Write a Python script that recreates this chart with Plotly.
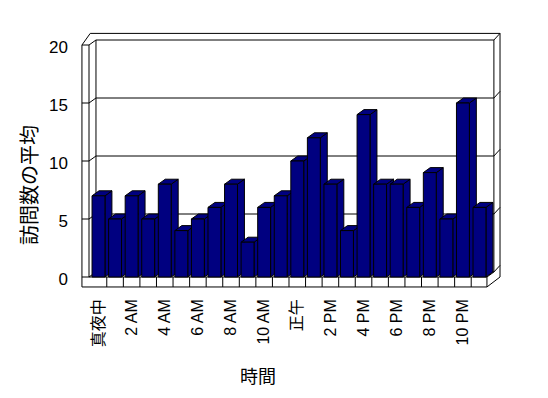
import plotly.graph_objects as go

# ---- data ----
hours = ["真夜中", "1 AM", "2 AM", "3 AM", "4 AM", "5 AM", "6 AM", "7 AM",
         "8 AM", "9 AM", "10 AM", "11 AM", "正午", "1 PM", "2 PM", "3 PM",
         "4 PM", "5 PM", "6 PM", "7 PM", "8 PM", "9 PM", "10 PM", "11 PM"]
values = [7, 5, 7, 5, 8, 4, 5, 6, 8, 3, 6, 7, 10, 12, 8, 4, 14, 8, 8, 6, 9, 5, 15, 6]
y_ticks = [0, 5, 10, 15, 20]
y_title = "訪問数の平均"
x_title = "時間"

# ---- style / 3D geometry (data units) ----
NAVY = "#000080"
FONT = "Liberation Sans, Noto Sans CJK JP, sans-serif"
HW = 0.39      # half bar width
DX = 0.42      # depth offset x
DY = 0.43      # depth offset y
n = len(values)
ymax = max(y_ticks)

L, LI = -1.0, -0.573
BL = LI + DX
R = n - 1 + 0.45
BR = R + DX
OR = R + 0.79
YB = -0.86
OT = ymax + 1.0
OL = -0.5

fig = go.Figure()

# frame
fx, fy = [], []
def add(pts):
    for p in pts:
        fx.append(p[0]); fy.append(p[1])
    fx.append(None); fy.append(None)

add([(L, YB), (L, ymax), (LI, ymax), (LI, 0)])
add([(L, ymax), (OL, OT), (OR, OT), (OR, 0), (R, YB)])
add([(LI, ymax), (BL, ymax + DY), (BR, ymax + DY), (OR, OT)])
add([(BL, DY), (BL, ymax + DY)])
add([(BR, DY), (BR, ymax + DY)])
add([(L, YB), (R, YB), (R, 0), (LI, 0)])
add([(R, 0), (BR, DY)])
for i in range(n - 1):
    add([(i + 0.5, YB), (i + 0.5, 0)])
for v in y_ticks[:-1]:
    add([(L, v), (LI, v), (BL, v + DY), (BR, v + DY), (OR, v + DY + (OT - ymax - DY))])
fig.add_trace(go.Scatter(x=fx, y=fy, mode="lines",
                         line=dict(color="black", width=1),
                         hoverinfo="skip", showlegend=False))

# bars
def poly(pts):
    xs = [p[0] for p in pts] + [pts[0][0]]
    ys = [p[1] for p in pts] + [pts[0][1]]
    fig.add_trace(go.Scatter(x=xs, y=ys, mode="lines", fill="toself",
                             fillcolor=NAVY, line=dict(color="black", width=1),
                             hoverinfo="skip", showlegend=False))

for i, v in enumerate(values):
    x0, x1 = i - HW, i + HW
    poly([(x1, 0), (x1 + DX, DY), (x1 + DX, v + DY), (x1, v)])          # side
    poly([(x0, v), (x1, v), (x1 + DX, v + DY), (x0 + DX, v + DY)])      # top
    poly([(x0, 0), (x1, 0), (x1, v), (x0, v)])                          # front

fig.update_layout(
    template="none",
    width=540, height=390,
    margin=dict(l=68, r=38, t=17, b=103, pad=0, autoexpand=False),
    paper_bgcolor="white", plot_bgcolor="white",
    font=dict(family=FONT, size=16, color="black"),
    showlegend=False, hovermode=False,
    xaxis=dict(range=[-1.3583, 24.842], tickvals=list(range(0, n, 2)),
               ticktext=hours[::2], tickangle=-90, showgrid=False,
               zeroline=False, showline=False, ticks="", automargin=False,
               tickfont=dict(size=16, color="black")),
    yaxis=dict(range=[-1.5517, 21.724], tickvals=y_ticks,
               ticktext=[str(t) for t in y_ticks], showgrid=False,
               zeroline=False, showline=False, ticks="", automargin=False,
               ticklabelstandoff=7, ticklabelshift=2,
               tickfont=dict(size=17, color="black")),
    annotations=[
        dict(text=x_title, xref="paper", yref="paper", x=0.419, y=-0.304,
             showarrow=False, font=dict(size=18, color="black"),
             xanchor="center", yanchor="middle"),
        dict(text=y_title, xref="paper", yref="paper", x=-0.106, y=0.407,
             showarrow=False, font=dict(size=20, color="black"), textangle=-90,
             xanchor="center", yanchor="middle"),
    ],
)

fig.write_html("out.html")
